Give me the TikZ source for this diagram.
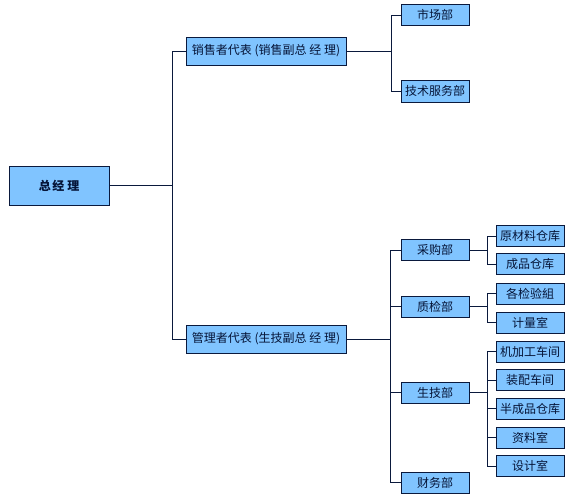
\documentclass[tikz,border=0pt]{standalone}
\usepackage{fontspec}
\setmainfont{Noto Sans CJK SC}
\definecolor{boxfill}{RGB}{128,196,255}
\definecolor{boxline}{RGB}{10,25,60}
\definecolor{txt}{RGB}{5,20,55}
\begin{document}
\begin{tikzpicture}[x=1pt,y=-1pt,
  orgbox/.style={draw=boxline,fill=boxfill,line width=0.9pt,text=txt,font=\fontsize{12}{14}\selectfont,inner sep=0pt,minimum height=21pt,minimum width=68pt,anchor=center},
  conn/.style={draw=boxline,line width=0.9pt}]
\useasboundingbox (0,0) rectangle (569,494);
\node[orgbox,minimum width=100pt,minimum height=39pt] (zjl) at (59,185.5) {\textbf{总\hspace{1.5pt}经\hspace{3pt}理}};
\node[orgbox,minimum width=160pt,minimum height=28pt] (xs) at (266,51) {销售者代表 (销售副总 经 理)};
\node[orgbox,minimum width=160pt,minimum height=28pt] (gl) at (266,339) {管理者代表 (生技副总 经 理)};
\node[orgbox] (sc) at (435,15) {市场部};
\node[orgbox,minimum height=22pt] (js) at (435,91) {技术服务部};
\node[orgbox] (cg) at (435,250) {采购部};
\node[orgbox] (zj) at (435,306.5) {质检部};
\node[orgbox] (st) at (435,392.5) {生技部};
\node[orgbox] (cw) at (435,482.5) {财务部};
\node[orgbox] (ycl) at (530,236) {原材料仓库};
\node[orgbox] (cp) at (530,264) {成品仓库};
\node[orgbox] (gj) at (530,293.5) {各检验組};
\node[orgbox] (jl) at (530,322.5) {计量室};
\node[orgbox] (jj) at (530,351.5) {机加工车间};
\node[orgbox] (zp) at (530,380) {装配车间};
\node[orgbox] (bcp) at (530,408.5) {半成品仓库};
\node[orgbox] (zl) at (530,437.5) {资料室};
\node[orgbox] (sj) at (530,466) {设计室};
\coordinate (t1) at (172,0);
\coordinate (t2) at (391,0);
\coordinate (t3) at (390,0);
\coordinate (t4) at (487,0);
% level 1
\draw[conn] (zjl.east) -- (zjl.east -| t1);
\draw[conn] (xs.west) -- (xs.west -| t1) -- (gl.west -| t1) -- (gl.west);
% sales branch
\draw[conn] (xs.east) -- (xs.east -| t2);
\draw[conn] (sc.west) -- (sc.west -| t2) -- (js.west -| t2) -- (js.west);
% management branch
\draw[conn] (gl.east) -- (gl.east -| t3);
\draw[conn] (cg.west) -- (cg.west -| t3) -- (cw.west -| t3) -- (cw.west);
\draw[conn] (zj.west) -- (zj.west -| t3);
\draw[conn] (st.west) -- (st.west -| t3);
% purchasing
\draw[conn] (cg.east) -- (cg.east -| t4);
\draw[conn] (ycl.west) -- (ycl.west -| t4) -- (cp.west -| t4) -- (cp.west);
% quality
\draw[conn] (zj.east) -- (zj.east -| t4);
\draw[conn] (gj.west) -- (gj.west -| t4) -- (jl.west -| t4) -- (jl.west);
% production
\draw[conn] (st.east) -- (st.east -| t4);
\draw[conn] (jj.west) -- (jj.west -| t4) -- (sj.west -| t4) -- (sj.west);
\draw[conn] (zp.west) -- (zp.west -| t4);
\draw[conn] (bcp.west) -- (bcp.west -| t4);
\draw[conn] (zl.west) -- (zl.west -| t4);
\end{tikzpicture}
\end{document}
